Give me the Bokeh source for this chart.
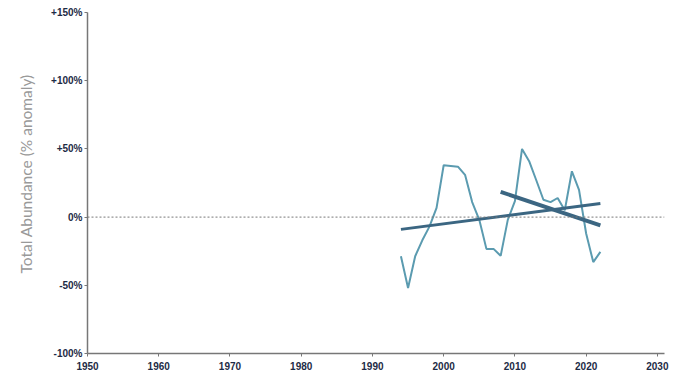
from bokeh.plotting import figure
from bokeh.models import Range1d, FixedTicker, Span, Title
from bokeh.embed import file_html
from bokeh.resources import INLINE

years = list(range(1994, 2023))
anomaly = [-28.7, -52, -28.7, -17, -7, 6.8, 38, 37.5, 37, 31, 11, -2, -23.3, -23.3, -28.4,
           -2, 11.7, 50, 41, 27, 12.7, 11, 14, 5, 33.6, 20, -12, -33, -25.5]

trend_long_years = [1994, 2022]
trend_long_vals = [-9, 10]
trend_short_years = [2008, 2022]
trend_short_vals = [18.5, -6]

x_ticks = [1950, 1960, 1970, 1980, 1990, 2000, 2010, 2020, 2030]
y_ticks = [-100, -50, 0, 50, 100, 150]
y_tick_labels = ["-100%", "-50%", "0%", "+50%", "+100%", "+150%"]
y_label = "Total Abundance (% anomaly)"

p = figure(width=673, height=372, output_backend="svg", toolbar_location=None,
           x_range=Range1d(1950, 2031), y_range=Range1d(-100, 150),
           min_border_left=87, min_border_right=9, min_border_top=12, min_border_bottom=19)
p.outline_line_color = None
p.xgrid.visible = False
p.ygrid.visible = False
p.background_fill_color = "white"

zero = Span(location=0, dimension="width", line_color="#777777", line_width=1, line_dash="2 2")
p.add_layout(zero)

p.line(years, anomaly, line_color="#5b9bb0", line_width=2)
p.line(trend_long_years, trend_long_vals, line_color="#3b6682", line_width=3)
p.line(trend_short_years, trend_short_vals, line_color="#3b6682", line_width=4)

p.xaxis.ticker = FixedTicker(ticks=x_ticks)
p.yaxis.ticker = FixedTicker(ticks=y_ticks)
p.yaxis.major_label_overrides = {t: l for t, l in zip(y_ticks, y_tick_labels)}

for ax in (p.xaxis, p.yaxis):
    ax.axis_line_color = "#777777"
    ax.axis_line_width = 1.5
    ax.major_tick_line_color = "#777777"
    ax.major_tick_in = 0
    ax.major_tick_out = 3
    ax.minor_tick_line_color = None
    ax.major_label_text_font = "Liberation Sans"
    ax.major_label_text_font_style = "bold"
    ax.major_label_text_font_size = "10px"
    ax.major_label_text_color = "#1d2b45"
    ax.major_label_standoff = 2
p.xaxis.major_label_standoff = 5

ytitle = Title(text=y_label, align="left", offset=80, text_font="Lato",
               text_font_style="normal", text_font_size="15.5px", text_color="#999999",
               standoff=27)
p.add_layout(ytitle, "left")

open("out.html", "w").write(file_html(p, INLINE))
